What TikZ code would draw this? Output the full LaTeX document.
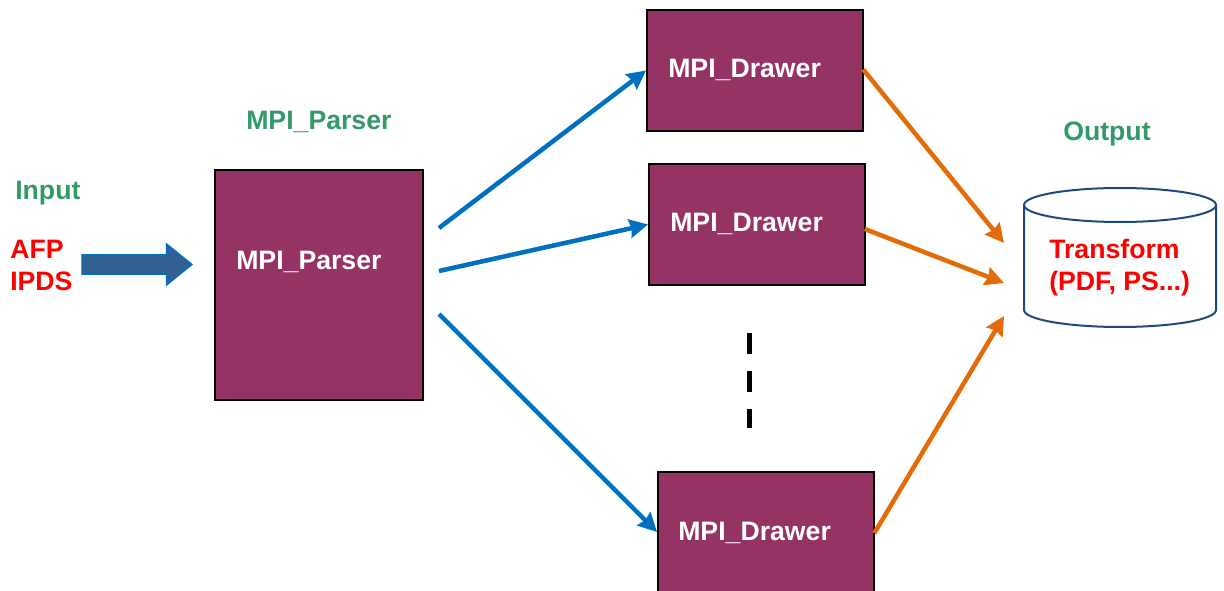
\documentclass[tikz,border=0pt]{standalone}
\usepackage{fontspec}
\setmainfont{Liberation Sans}
\usetikzlibrary{arrows.meta,shapes.arrows}

\definecolor{plum}{HTML}{963365}
\definecolor{inkgreen}{HTML}{339966}
\definecolor{inkblue}{HTML}{0070C0}
\definecolor{inkorange}{HTML}{E36C09}
\definecolor{inknavy}{HTML}{1F497D}
\definecolor{fillblue}{HTML}{336094}

\tikzset{
  box/.style={draw=black, line width=1.5pt, fill=plum, minimum width=162pt, inner sep=0pt},
  word/.style={anchor=base west, inner sep=0pt, font=\fontsize{20}{24}\selectfont\bfseries},
  white word/.style={word, text=white},
  green word/.style={word, text=inkgreen},
  red word/.style={word, text=red},
  bluearrow/.style={draw=inkblue, line width=3.4pt, -{Stealth[length=14pt,width=14pt,inset=1.5pt]}},
  orangearrow/.style={draw=inkorange, line width=3.4pt, shorten <=-1pt, -{Stealth[length=14pt,width=14pt,inset=1.5pt]}}
}

\begin{document}
\begin{tikzpicture}[x=0.75pt, y=-0.75pt]

  \useasboundingbox (0,0) rectangle (1224,591);

  % boxes
  \node[box, minimum width=156pt, minimum height=172pt] (parser) at (319,285) {};
  \node[box, minimum height=90.5pt] (drawerA) at (755,70.5) {};
  \node[box, minimum height=90.5pt] (drawerB) at (757,224.5) {};
  \node[box, minimum height=90.5pt] (drawerC) at (766,532) {};

  \node[white word] (parserword) at (236,270) {MPI\_Parser};
  \node[white word] (drawerwordA) at (668,78) {MPI\_Drawer};
  \node[white word] (drawerwordB) at (670,232) {MPI\_Drawer};
  \node[white word] (drawerwordC) at (678,540) {MPI\_Drawer};

  % store
  \coordinate (storetop) at (1024,205);
  \coordinate (storebottom) at (1024,310);
  \coordinate (storeright) at (1216,205);
  \draw[draw=inknavy, line width=1.5pt] (storetop) arc[start angle=180, end angle=540, x radius=72pt, y radius=12.75pt];
  \draw[draw=inknavy, line width=1.5pt] (storetop) -- (storebottom)
    arc[start angle=180, end angle=360, x radius=72pt, y radius=12.75pt] -- (storeright);
  \node[red word] (storewordA) at (1049,259) {Transform};
  \node[red word] (storewordB) at (1049,291) {(PDF, PS...)};

  % headings
  \node[green word] (inputword) at (15,200) {Input};
  \node[green word] (parserhead) at (246,130) {MPI\_Parser};
  \node[green word] (outputword) at (1063,141) {Output};
  \node[red word] (afpword) at (10,259) {AFP};
  \node[red word] (ipdsword) at (10,291) {IPDS};

  % input arrow
  \node[shape=single arrow, draw=inkblue, fill=fillblue, line width=1pt, inner xsep=0pt, inner ysep=6.75pt,
    minimum height=82.5pt, minimum width=30pt, single arrow head extend=8.25pt,
    single arrow tip angle=78, single arrow head indent=0pt] (inarrow) at (131,264.5) {};

  % free ends
  \coordinate (outA) at (439,228);
  \coordinate (outB) at (439,271);
  \coordinate (outC) at (439,314);
  \coordinate (inA) at (1004,243);
  \coordinate (inB) at (1004,283);
  \coordinate (inC) at (1004,316);
  \coordinate (gaptop) at (749,333);
  \coordinate (gapbottom) at (749,428);

  \draw[bluearrow] (outA) -- (drawerA.west);
  \draw[bluearrow] (outB) -- (drawerB.west);
  \draw[bluearrow] (outC) -- (drawerC.west);

  \draw[orangearrow] (drawerA.east) -- (inA);
  \draw[orangearrow] (drawerB.east) ++(0,5) -- (inB);
  \draw[orangearrow] (drawerC.east) -- (inC);

  \draw[line width=3.75pt, dash pattern=on 15.75pt off 12.75pt] (gaptop) -- (gapbottom);

\end{tikzpicture}
\end{document}
